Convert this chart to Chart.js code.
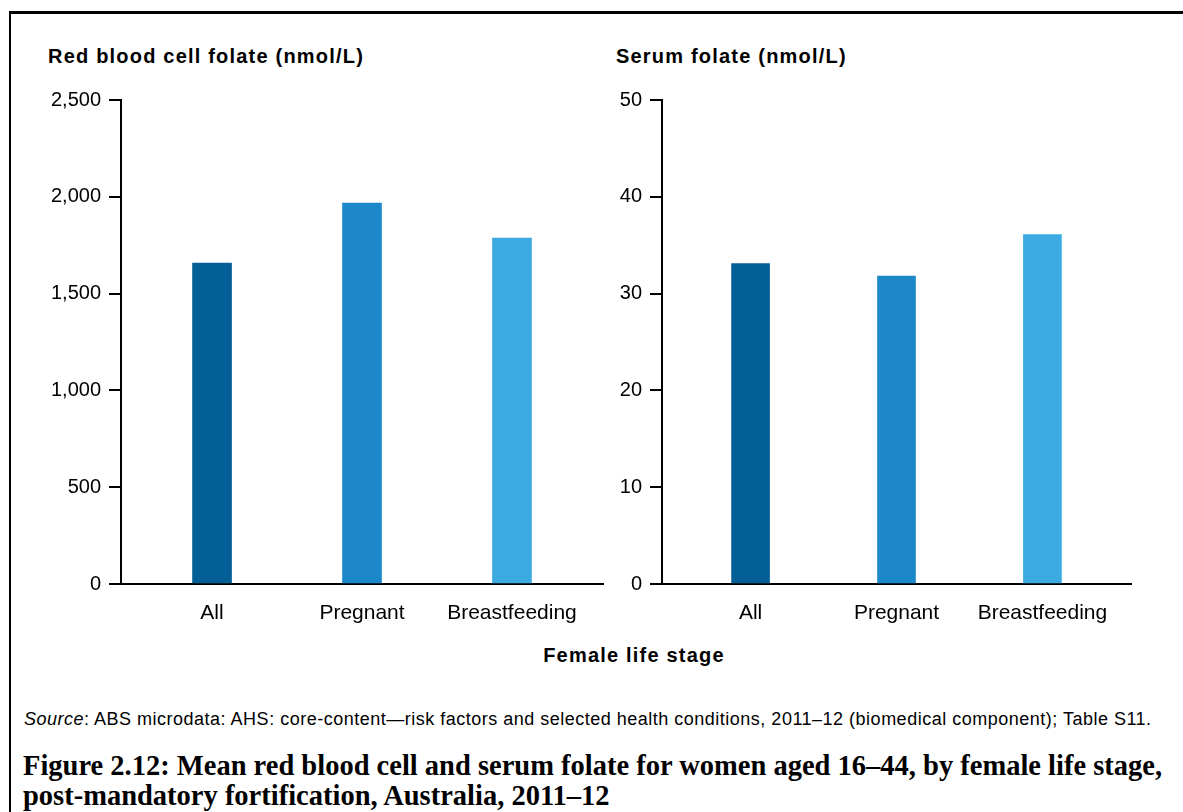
<!DOCTYPE html>
<html lang="en">
<head>
<meta charset="UTF-8">
<title>Mean red blood cell and serum folate</title>
<script src="https://cdn.jsdelivr.net/npm/chart.js@4"></script>
<style>
  * { margin: 0; padding: 0; box-sizing: border-box; }
  body { width: 1183px; height: 812px; background: #fff; position: relative; overflow: hidden; font-family: 'Liberation Sans', Arial, sans-serif; color: #000; }
  .frame { position: absolute; left: 9px; top: 11px; width: 1200px; height: 900px; border-top: 3px solid #000; border-left: 2px solid #000; }
  .panel-title { position: absolute; top: 45px; font-size: 20px; font-weight: bold; letter-spacing: 1.2px; white-space: nowrap; }
  canvas { position: absolute; top: 0; }
  .xtitle { position: absolute; top: 644px; left: 0; width: 1268px; text-align: center; font-size: 20px; font-weight: bold; letter-spacing: 1.2px; }
  .source { position: absolute; left: 24px; top: 709px; font-size: 18px; letter-spacing: 0.5px; white-space: nowrap; }
  .caption { position: absolute; left: 23px; top: 751px; font-family: 'Liberation Serif', serif; font-weight: bold; font-size: 28.5px; line-height: 30px; white-space: nowrap; }
</style>
</head>
<body>
<div class="frame"></div>
<div class="panel-title" style="left:48px">Red blood cell folate (nmol/L)</div>
<div class="panel-title" style="left:616px">Serum folate (nmol/L)</div>
<canvas id="rbcChart" width="612" height="640" style="left:0"></canvas>
<canvas id="serumChart" width="580" height="640" style="left:560px"></canvas>
<div class="xtitle">Female life stage</div>
<div class="source"><i>Source</i>: ABS microdata: AHS: core-content—risk factors and selected health conditions, 2011–12 (biomedical component); Table S11.</div>
<div class="caption">Figure 2.12: Mean red blood cell and serum folate for women aged 16–44, by female life stage,<br>post-mandatory fortification, Australia, 2011–12</div>

<script>
const stages = ['All', 'Pregnant', 'Breastfeeding'];
const rbcFolate = [1658, 1968, 1787];
const serumFolate = [33.1, 31.8, 36.1];
const rbcTicks = [0, 500, 1000, 1500, 2000, 2500];
const serumTicks = [0, 10, 20, 30, 40, 50];
const barColors = ['#045f96', '#1d88c9', '#3aaae0'];

Chart.defaults.font.family = "'Liberation Sans', Arial, sans-serif";
Chart.defaults.color = '#000';

function makeChart(id, values, ticks, yWidth, padRight, barWidth) {
  return new Chart(document.getElementById(id), {
    type: 'bar',
    data: {
      datasets: [{
        data: values.map((v, i) => ({ x: i, y: v })),
        backgroundColor: barColors,
        borderWidth: 0,
        barThickness: barWidth,
      }]
    },
    options: {
      responsive: false,
      animation: false,
      layout: { padding: { top: 100, left: 0, right: padRight, bottom: 0 } },
      plugins: { legend: { display: false }, tooltip: { enabled: false } },
      scales: {
        x: {
          type: 'linear',
          offset: false,
          min: -0.607,
          max: 2.607,
          afterBuildTicks: s => { s.ticks = stages.map((_, i) => ({ value: i })); },
          afterFit: s => { s.height = 56; },
          grid: { display: false, drawTicks: false },
          border: { display: true, color: '#000', width: 2 },
          ticks: { padding: 17, font: { size: 21 }, color: '#000', callback: v => stages[v] }
        },
        y: {
          min: 0,
          max: ticks[ticks.length - 1],
          afterBuildTicks: s => { s.ticks = ticks.map(v => ({ value: v })); },
          afterFit: s => { s.width = yWidth; },
          grid: { drawOnChartArea: false, drawTicks: true, tickLength: 12, color: '#000', lineWidth: 2 },
          border: { display: true, color: '#000', width: 2 },
          ticks: { padding: 8, font: { size: 20 }, color: '#000', callback: v => v.toLocaleString('en-US') }
        }
      }
    }
  });
}

makeChart('rbcChart', rbcFolate, rbcTicks, 121, 9, 39);
makeChart('serumChart', serumFolate, serumTicks, 102, 9, 38);
</script>
</body>
</html>
